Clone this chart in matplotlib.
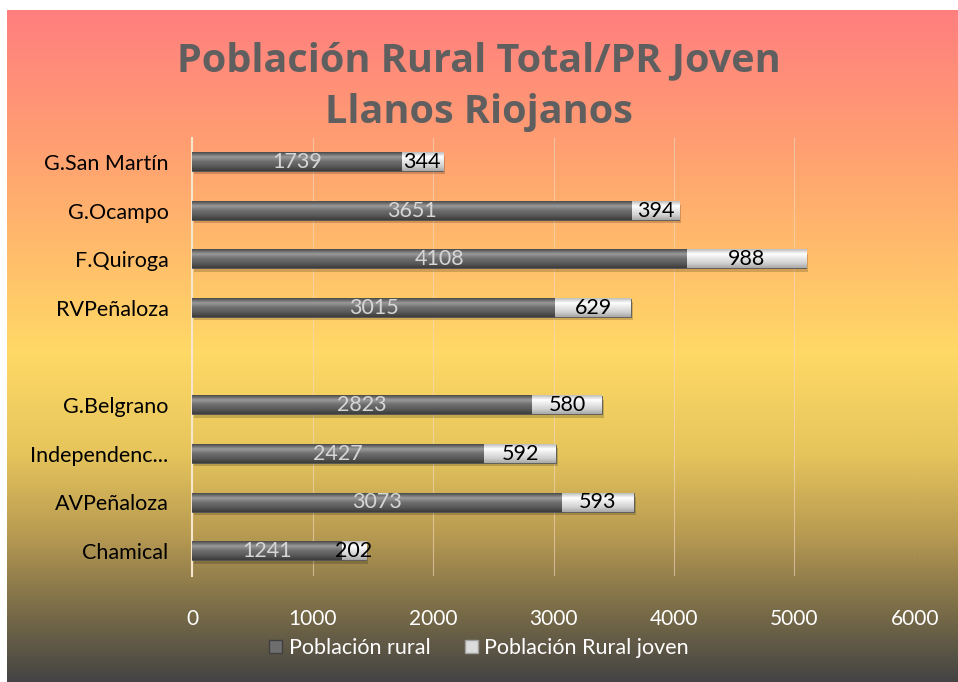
import numpy as np
import matplotlib.pyplot as plt
from matplotlib.colors import LinearSegmentedColormap

plt.rcParams['font.family'] = ['Lato', 'DejaVu Sans']

# data, top to bottom ("" = empty gap row)
categories = ['G.San Martín', 'G.Ocampo', 'F.Quiroga', 'RVPeñaloza', '',
              'G.Belgrano', 'Independenc...', 'AVPeñaloza', 'Chamical']
rural = [1739, 3651, 4108, 3015, np.nan, 2823, 2427, 3073, 1241]
joven = [344, 394, 988, 629, np.nan, 580, 592, 593, 202]
xticks = [0, 1000, 2000, 3000, 4000, 5000, 6000]

fig = plt.figure(figsize=(9.58, 6.82), dpi=100)
fig.patch.set_facecolor('white')

# gradient background panel
bg = fig.add_axes([7 / 958, 0, 1 - 7 / 958, 1 - 10 / 682])
bg_cmap = LinearSegmentedColormap.from_list('bg', [
    (0.00, '#ff7f7f'),
    (0.22, '#ffa270'),
    (0.51, '#ffd966'),
    (0.66, '#e6c55c'),
    (0.78, '#b99b52'),
    (0.89, '#7c6e48'),
    (1.00, '#454444'),
])
bg.imshow(np.linspace(0, 1, 256).reshape(-1, 1), aspect='auto', cmap=bg_cmap,
          extent=[0, 1, 1, 0])
bg.set_axis_off()

ax = fig.add_axes([192 / 958, 1 - 575.5 / 682, (915 - 192) / 958, (575.5 - 137.5) / 682])
ax.patch.set_alpha(0)

y = np.arange(len(categories))
h = 0.37
rural_a = np.array(rural, dtype=float)
joven_a = np.array(joven, dtype=float)

dark_cmap = LinearSegmentedColormap.from_list('d', ['#4a4a4a', '#9a9a9a', '#6e6e6e', '#5a5a5a', '#3c3c3c'])
light_cmap = LinearSegmentedColormap.from_list('l', ['#bdbdbd', '#ffffff', '#e6e6e6', '#d0d0d0', '#a8a8a8'])
grad = np.linspace(0, 1, 64).reshape(-1, 1)

b1 = ax.barh(y, rural_a, height=h, color='#6e6e6e', zorder=3)
b2 = ax.barh(y, joven_a, left=rural_a, height=h, color='#dcdcdc', zorder=3)

for bars, cmap in ((b1, dark_cmap), (b2, light_cmap)):
    for p in bars:
        x0, y0 = p.get_x(), p.get_y()
        w, hh = p.get_width(), p.get_height()
        if np.isnan(w):
            continue
        # shadow
        ax.barh(y0 + hh / 2 + 0.07, w, left=x0 + 15, height=hh, color='#000000',
                alpha=0.18, zorder=2)
        ax.imshow(grad, cmap=cmap, aspect='auto', zorder=4,
                  extent=[x0, x0 + w, y0 + hh, y0], clip_path=p, clip_on=True)
        p.set_edgecolor('#505050')
        p.set_linewidth(0.6)

for i in range(len(categories)):
    if np.isnan(rural_a[i]):
        continue
    ax.text(rural_a[i] / 2, y[i], f'{int(rural_a[i])}', ha='center', va='center',
            color='#d6d6d6', fontsize=15.5, zorder=6)
    ax.text(rural_a[i] + joven_a[i] / 2, y[i], f'{int(joven_a[i])}', ha='center',
            va='center', color='black', fontsize=15.5, zorder=6)

ax.set_xlim(0, 6000)
ax.set_ylim(len(categories) - 0.5, -0.5)
ax.set_xticks(xticks)
ax.set_xticklabels([str(t) for t in xticks], color='white', fontsize=15)
ax.set_yticks(y)
ax.set_yticklabels(categories, fontsize=15.5, color='black')
ax.tick_params(length=0)
ax.tick_params(axis='y', pad=17)
ax.tick_params(axis='x', pad=24)
ax.grid(axis='x', color='#f3d9c0', linewidth=0.8, alpha=0.6, zorder=0)
for s in ('top', 'right', 'bottom'):
    ax.spines[s].set_visible(False)
ax.spines['left'].set_color('#f5e6cc')
ax.spines['left'].set_linewidth(1.5)

fig.text(0.5, 1 - 61 / 682, 'Población Rural Total/PR Joven', ha='center', va='center',
         fontsize=28.5, fontweight='bold', color='#5f5f5f', family='Open Sans')
fig.text(0.5, 1 - 112 / 682, 'Llanos Riojanos', ha='center', va='center',
         fontsize=28.5, fontweight='bold', color='#5f5f5f', family='Open Sans')

# legend
h1 = plt.Rectangle((0, 0), 1, 1, facecolor='#6e6e6e', edgecolor='#404040')
h2 = plt.Rectangle((0, 0), 1, 1, facecolor='#dcdcdc', edgecolor='#a0a0a0')
fig.legend([h1, h2], ['Población rural', 'Población Rural joven'], loc='center',
           bbox_to_anchor=(0.5, 1 - 648 / 682), ncol=2, frameon=False, fontsize=15.5,
           labelcolor='white', handlelength=0.6, handleheight=0.6, handletextpad=0.3,
           columnspacing=1.6)

fig.savefig('out.png', dpi=100)
